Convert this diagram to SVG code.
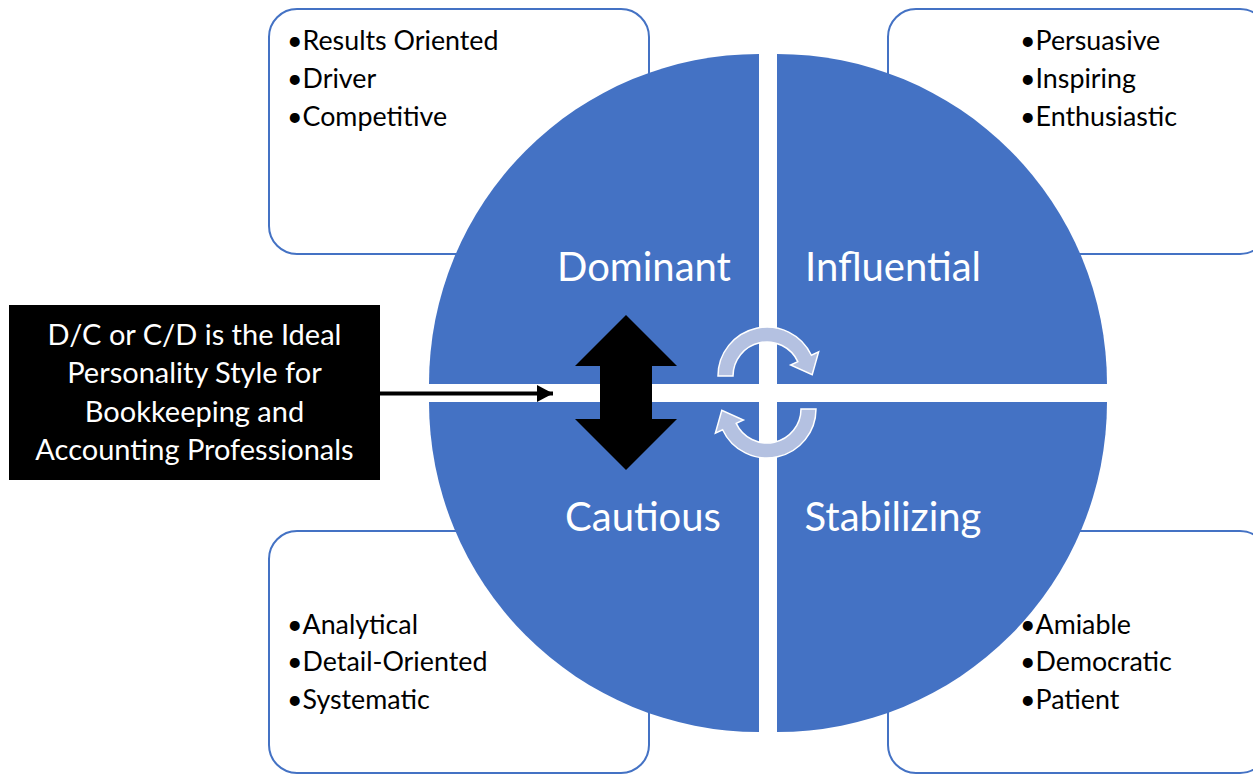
<svg xmlns="http://www.w3.org/2000/svg" width="1253" height="775" viewBox="0 0 1253 775">
<style>
.box{fill:#fff;stroke:#4472C4;stroke-width:2}
.q{fill:#4472C4}
.lbl{font-family:Lato,"Open Sans",sans-serif;font-size:40px;fill:#fff;text-anchor:middle}
.bul{font-family:Lato,"Open Sans",sans-serif;font-size:26.8px;fill:#000}
.note{font-family:Lato,"Open Sans",sans-serif;font-size:29px;fill:#fff;text-anchor:middle}
.cyc{fill:#B4C1E1;stroke:#fff;stroke-width:1.5}
</style>
<defs>
<marker id="ah" markerWidth="16" markerHeight="17" refX="16" refY="8.5" orient="auto" markerUnits="userSpaceOnUse">
<path d="M0,0 L16,8.5 L0,17 Z" fill="#000"/>
</marker>
</defs>
<rect width="1253" height="775" fill="#fff"/>
<g id="box-d"><rect class="box" x="269" y="9" width="380" height="245" rx="28"/></g>
<g id="box-i"><rect class="box" x="888" y="9" width="380" height="245" rx="28"/></g>
<g id="box-c"><rect class="box" x="269" y="531" width="380" height="242" rx="28"/></g>
<g id="box-s"><rect class="box" x="888" y="531" width="380" height="242" rx="28"/></g>
<g id="dominant"><path class="q" d="M759,384 L429,384 A330,330 0 0 1 759,54 Z"/><text class="lbl" x="644" y="281">Dominant</text></g>
<g id="influential"><path class="q" d="M777,384 L777,54 A330,330 0 0 1 1107,384 Z"/><text class="lbl" x="893" y="281">Influential</text></g>
<g id="cautious"><path class="q" d="M759,402 L759,732 A330,330 0 0 1 429,402 Z"/><text class="lbl" x="643" y="531">Cautious</text></g>
<g id="stabilizing"><path class="q" d="M777,402 L1107,402 A330,330 0 0 1 777,732 Z"/><text class="lbl" x="893" y="531">Stabilizing</text></g>
<g id="list-d" class="bul"><text x="287" y="50">•Results Oriented</text><text x="287" y="88">•Driver</text><text x="287" y="126">•Competitive</text></g>
<g id="list-i" class="bul"><text x="1020" y="50">•Persuasive</text><text x="1020" y="88">•Inspiring</text><text x="1020" y="126">•Enthusiastic</text></g>
<g id="list-c" class="bul"><text x="287" y="634">•Analytical</text><text x="287" y="671">•Detail-Oriented</text><text x="287" y="709">•Systematic</text></g>
<g id="list-s" class="bul"><text x="1020" y="634">•Amiable</text><text x="1020" y="671">•Democratic</text><text x="1020" y="709">•Patient</text></g>
<g id="note"><rect x="9" y="305" width="371" height="175" fill="#000"/>
<text class="note" x="194.5" y="345">D/C or C/D is the Ideal</text>
<text class="note" x="194.5" y="383">Personality Style for</text>
<text class="note" x="194.5" y="422">Bookkeeping and</text>
<text class="note" x="194.5" y="460">Accounting Professionals</text></g>
<g id="dbl-arrow"><path d="M626,315 L677,366 L652,366 L652,419 L677,419 L626,470 L575,419 L600,419 L600,366 L575,366 Z" fill="#000"/></g>
<g id="connectors">
<line x1="380" y1="393.5" x2="553" y2="393.5" stroke="#000" stroke-width="4" marker-end="url(#ah)"/>
<path id="cyc1" class="cyc" d="M718,376 A49,49 0 0 1 811.4,355.3 L818.6,351.9 L812.2,374.7 L790.6,365 L797.8,361.6 A34,34 0 0 0 733,376 Z"/>
<path id="cyc2" class="cyc" transform="rotate(180 767 392.5)" d="M718,376 A49,49 0 0 1 811.4,355.3 L818.6,351.9 L812.2,374.7 L790.6,365 L797.8,361.6 A34,34 0 0 0 733,376 Z"/>
</g>
</svg>
